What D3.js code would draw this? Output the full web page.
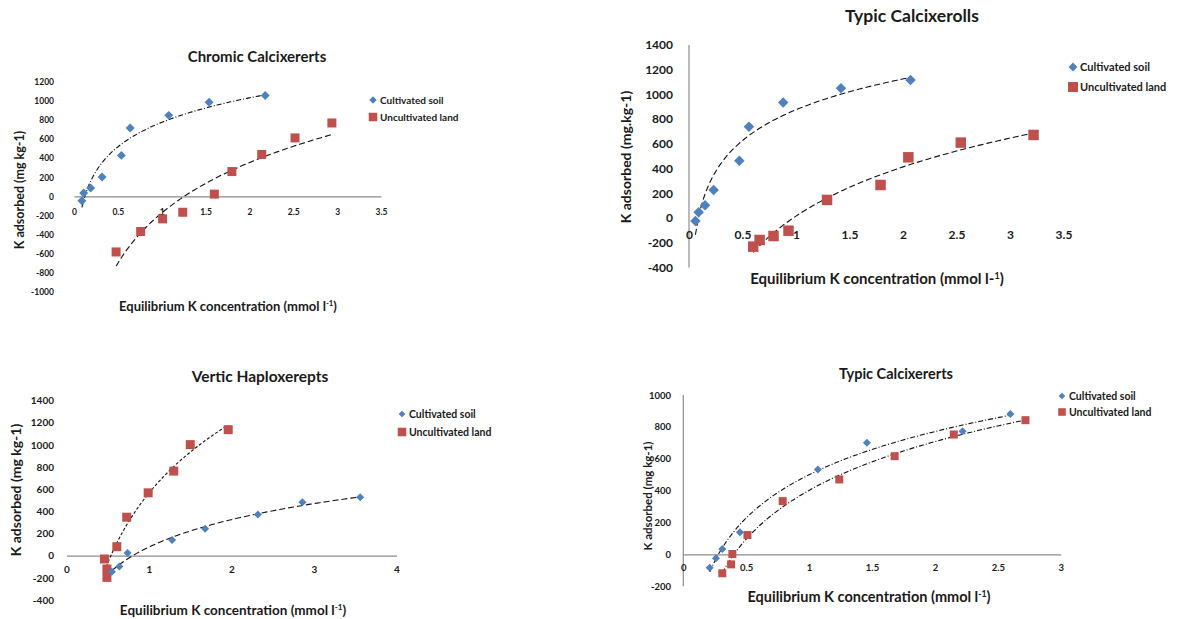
<!DOCTYPE html>
<html>
  <head>
    <meta http-equiv="Content-Type" content="text/html;charset=utf-8">
    <title>K adsorption isotherms</title>
    <script src="https://d3js.org/d3.v7.min.js"></script>
    <style>
      html, body {
        margin: 0;
        padding: 0;
        background: #fff;
      }
      text {
        font-family: Lato, "Open Sans", sans-serif;
        fill: #1a1a1a;
      }
      .trend {
        fill: none;
        stroke: #111;
        stroke-width: 1.1px;
      }
    </style>
  </head>
  <body>
    <script type="text/javascript">

// Chromic Calcixererts
var ccCultX = [0.09, 0.11, 0.19, 0.32, 0.54, 0.64, 1.08, 1.54, 2.18];
var ccCultY = [-45, 35, 87, 204, 429, 716, 848, 986, 1055];
var ccUncX  = [0.48, 0.76, 1.01, 1.24, 1.60, 1.80, 2.14, 2.52, 2.94];
var ccUncY  = [-581, -367, -235, -166, 24, 260, 439, 612, 768];
var ccXTicks = [0, 0.5, 1, 1.5, 2, 2.5, 3, 3.5];
var ccYTicks = [-1000, -800, -600, -400, -200, 0, 200, 400, 600, 800, 1000, 1200];

// Typic Calcixerolls
var tcCultX = [0.06, 0.09, 0.15, 0.23, 0.47, 0.56, 0.88, 1.42, 2.07];
var tcCultY = [-24, 46, 103, 227, 464, 739, 934, 1050, 1117];
var tcUncX  = [0.60, 0.66, 0.79, 0.93, 1.29, 1.79, 2.05, 2.54, 3.22];
var tcUncY  = [-232, -178, -146, -103, 146, 267, 491, 610, 672];
var tcXTicks = [0, 0.5, 1, 1.5, 2, 2.5, 3, 3.5];
var tcYTicks = [-400, -200, 0, 200, 400, 600, 800, 1000, 1200, 1400];

// Vertic Haploxerepts
var vhCultX = [0.55, 0.64, 0.74, 1.28, 1.68, 2.32, 2.86, 3.56];
var vhCultY = [-145, -97, 24, 142, 242, 371, 482, 527];
var vhUncX  = [0.46, 0.49, 0.49, 0.61, 0.73, 0.99, 1.30, 1.50, 1.96];
var vhUncY  = [-30, -120, -196, 81, 347, 567, 763, 1002, 1137];
var vhXTicks = [0, 1, 2, 3, 4];
var vhYTicks = [-400, -200, 0, 200, 400, 600, 800, 1000, 1200, 1400];

// Typic Calcixererts
var tvCultX = [0.21, 0.26, 0.31, 0.45, 1.07, 1.46, 2.22, 2.60];
var tvCultY = [-84, -25, 33, 138, 533, 700, 773, 880];
var tvUncX  = [0.31, 0.38, 0.39, 0.51, 0.79, 1.24, 1.68, 2.15, 2.72];
var tvUncY  = [-119, -63, 2, 121, 334, 470, 616, 752, 842];
var tvXTicks = [0, 0.5, 1, 1.5, 2, 2.5, 3];
var tvYTicks = [-200, 0, 200, 400, 600, 800, 1000];

var seriesNames = ["Cultivated soil", "Uncultivated land"];
var blue = "#4f81bd", red = "#c0504d";

var svg = d3.select("body").append("svg")
    .attr("width", 1193)
    .attr("height", 619);

var panels = [
  {title: "Chromic Calcixererts", titleX: 257, titleY: 62, titleSize: 15,
   x0: 74, x1: 381, y0: 292, y1: 81.7, xDom: [0, 3.5], yDom: [-1000, 1200],
   xTicks: ccXTicks, yTicks: ccYTicks, tickSize: 8.5, yLabRight: 54, xLabOff: 19,
   hLine: true, vLine: false,
   yTitle: "K adsorbed (mg kg-1)", yTitleX: 20, yTitleY: 190, yTitleSize: 12.5,
   xTitle: ["Equilibrium K concentration (mmol l", "-1", ")"], xTitleX: 228, xTitleY: 311, xTitleSize: 13,
   legX: 373, legY: [100, 117], legSize: 10,
   cult: [ccCultX, ccCultY], unc: [ccUncX, ccUncY], dia: 40, sq: 81,
   dash: ["5,2,1,2", "6,3"]},
  {title: "Typic Calcixerolls", titleX: 912, titleY: 22, titleSize: 17.5,
   x0: 689, x1: 1063.5, y0: 267.4, y1: 45, xDom: [0, 3.5], yDom: [-400, 1400],
   xTicks: tcXTicks, yTicks: tcYTicks, tickSize: 12, yLabRight: 673, xLabOff: 19,
   hLine: false, vLine: true,
   yTitle: "K adsorbed (mg.kg-1)", yTitleX: 626, yTitleY: 157, yTitleSize: 14,
   xTitle: ["Equilibrium K concentration (mmol l-", "1", ")"], xTitleX: 877, xTitleY: 284, xTitleSize: 15,
   legX: 1073, legY: [67, 87], legSize: 11,
   cult: [tcCultX, tcCultY], unc: [tcUncX, tcUncY], dia: 55, sq: 110,
   dash: ["6,3", "6,3"]},
  {title: "Vertic Haploxerepts", titleX: 260, titleY: 382, titleSize: 15.5,
   x0: 66.5, x1: 396.5, y0: 600, y1: 400.5, xDom: [0, 4], yDom: [-400, 1400],
   xTicks: vhXTicks, yTicks: vhYTicks, tickSize: 10, yLabRight: 54, xLabOff: 16,
   hLine: true, vLine: false,
   yTitle: "K adsorbed (mg kg-1)", yTitleX: 16, yTitleY: 490, yTitleSize: 14,
   xTitle: ["Equilibrium K concentration (mmol l", "-1", ")"], xTitleX: 233, xTitleY: 615, xTitleSize: 13.5,
   legX: 402, legY: [414, 432], legSize: 10.5,
   cult: [vhCultX, vhCultY], unc: [vhUncX, vhUncY], dia: 32, sq: 81,
   dash: ["6,3", "3,2"]},
  {title: "Typic Calcixererts", titleX: 896, titleY: 379, titleSize: 14.5,
   x0: 683.3, x1: 1060.7, y0: 586.2, y1: 395, xDom: [0, 3], yDom: [-200, 1000],
   xTicks: tvXTicks, yTicks: tvYTicks, tickSize: 9.5, yLabRight: 671, xLabOff: 16,
   hLine: true, vLine: true,
   yTitle: "K adsorbed (mg kg-1)", yTitleX: 648, yTitleY: 496, yTitleSize: 11.5,
   xTitle: ["Equilibrium K concentration (mmol l", "-1", ")"], xTitleX: 869, xTitleY: 602, xTitleSize: 14.5,
   legX: 1062, legY: [396, 412], legSize: 10.5,
   cult: [tvCultX, tvCultY], unc: [tvUncX, tvUncY], dia: 32, sq: 64,
   dash: ["5,2,1,2", "5,2,1,2"]}
];

// excel style logarithmic trendline: y = a ln(x) + b
function logFit(xs, ys) {
  var lx = xs.map(Math.log);
  var mx = d3.mean(lx), my = d3.mean(ys);
  var sxy = d3.sum(lx, function(v, i) { return (v - mx) * (ys[i] - my); });
  var sxx = d3.sum(lx, function(v) { return (v - mx) * (v - mx); });
  var a = sxy / sxx;
  return {a: a, b: my - a * mx};
}

panels.forEach(function(p) {
  var x = d3.scaleLinear().domain(p.xDom).range([p.x0, p.x1]);
  var y = d3.scaleLinear().domain(p.yDom).range([p.y0, p.y1]);
  var g = svg.append("g");

  if (p.vLine) {
    g.append("line")
      .attr("x1", x(0)).attr("x2", x(0))
      .attr("y1", p.y0).attr("y2", p.y1)
      .style("stroke", "#8c8c8c").style("stroke-width", 1.2);
  }

  // x axis sits on y = 0, labels a bit below it
  var xa = g.append("g")
    .attr("transform", "translate(0," + y(0) + ")")
    .call(d3.axisBottom(x).tickValues(p.xTicks).tickSize(0).tickPadding(p.xLabOff - 6)
      .tickFormat(function(d) { return d; }));
  xa.select(".domain").style("stroke", p.hLine ? "#8c8c8c" : "none").style("stroke-width", 1.2);
  xa.selectAll("text").style("font-size", p.tickSize + "px").style("font-weight", "bold")
    .style("font-family", "Lato, sans-serif").attr("fill", "#1a1a1a");

  var ya = g.append("g")
    .attr("transform", "translate(" + p.yLabRight + ",0)")
    .call(d3.axisLeft(y).tickValues(p.yTicks).tickSize(0).tickPadding(0)
      .tickFormat(function(d) { return d; }));
  ya.select(".domain").remove();
  ya.selectAll("text").style("font-size", p.tickSize + "px").style("font-weight", "bold")
    .style("font-family", "Lato, sans-serif").attr("fill", "#1a1a1a");

  g.append("text")
    .attr("x", p.titleX).attr("y", p.titleY)
    .attr("text-anchor", "middle")
    .style("font-size", p.titleSize + "px").style("font-weight", "bold")
    .text(p.title);

  g.append("text")
    .attr("transform", "translate(" + p.yTitleX + "," + p.yTitleY + ") rotate(-90)")
    .attr("text-anchor", "middle").attr("dy", "0.35em")
    .style("font-size", p.yTitleSize + "px").style("font-weight", "bold")
    .text(p.yTitle);

  var xt = g.append("text")
    .attr("x", p.xTitleX).attr("y", p.xTitleY)
    .attr("text-anchor", "middle")
    .style("font-size", p.xTitleSize + "px").style("font-weight", "bold");
  xt.append("tspan").text(p.xTitle[0]);
  xt.append("tspan").attr("dy", -5).style("font-size", (p.xTitleSize * 0.6) + "px").text(p.xTitle[1]);
  xt.append("tspan").attr("dy", 5).text(p.xTitle[2]);

  // trendlines
  [p.cult, p.unc].forEach(function(s, k) {
    var f = logFit(s[0], s[1]);
    var lo = d3.min(s[0]), hi = d3.max(s[0]);
    var pts = d3.range(81).map(function(i) {
      var xv = lo + (hi - lo) * i / 80;
      return [xv, f.a * Math.log(xv) + f.b];
    });
    g.append("path")
      .attr("class", "trend")
      .attr("stroke-dasharray", p.dash[k])
      .attr("d", d3.line().x(function(d) { return x(d[0]); }).y(function(d) { return y(d[1]); })(pts));
  });

  var diamond = d3.symbol().type(d3.symbolSquare).size(p.dia);
  var square = d3.symbol().type(d3.symbolSquare).size(p.sq);

  g.selectAll(".unc").data(d3.zip(p.unc[0], p.unc[1])).enter()
    .append("path").attr("class", "unc")
    .attr("d", square)
    .attr("transform", function(d) { return "translate(" + x(d[0]) + "," + y(d[1]) + ")"; })
    .style("fill", red);

  g.selectAll(".cult").data(d3.zip(p.cult[0], p.cult[1])).enter()
    .append("path").attr("class", "cult")
    .attr("d", diamond)
    .attr("transform", function(d) { return "translate(" + x(d[0]) + "," + y(d[1]) + ") rotate(45)"; })
    .style("fill", blue);

  // legend
  g.append("path").attr("d", d3.symbol().type(d3.symbolSquare).size(p.dia * 0.7))
    .attr("transform", "translate(" + p.legX + "," + p.legY[0] + ") rotate(45)")
    .style("fill", blue);
  g.append("path").attr("d", d3.symbol().type(d3.symbolSquare).size(p.sq * 0.9))
    .attr("transform", "translate(" + p.legX + "," + p.legY[1] + ")")
    .style("fill", red);
  seriesNames.forEach(function(n, i) {
    g.append("text")
      .attr("x", p.legX + 7).attr("y", p.legY[i]).attr("dy", "0.35em")
      .style("font-size", p.legSize + "px").style("font-weight", "bold")
      .text(n);
  });
});

    </script>
  </body>
</html>
